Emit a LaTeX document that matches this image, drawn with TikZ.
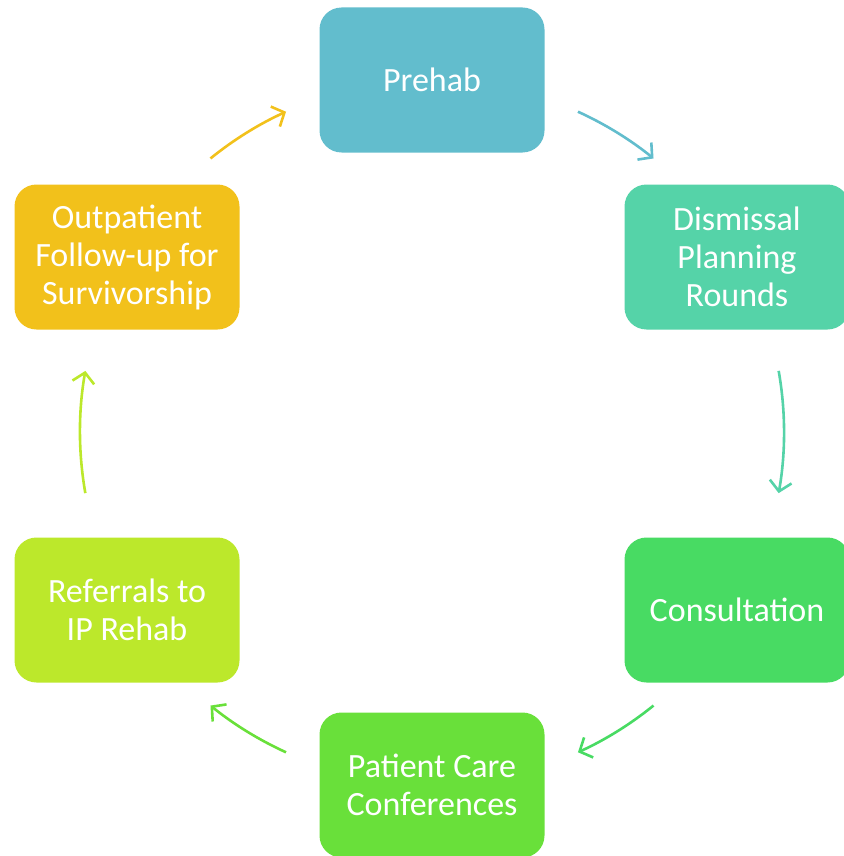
\documentclass[tikz,border=0pt]{standalone}
\usepackage{fontspec}
\setmainfont{Carlito}
\usetikzlibrary{arrows.meta}

\definecolor{prehabcol}{HTML}{62BDCD}
\definecolor{dismisscol}{HTML}{55D3A8}
\definecolor{consultcol}{HTML}{48DB63}
\definecolor{confcol}{HTML}{69E03A}
\definecolor{referralcol}{HTML}{BCE82B}
\definecolor{outpatcol}{HTML}{F2C11B}

\tikzset{
    stagebox/.style={rounded corners=22pt, minimum width=225pt, minimum height=145pt,
        text=white, align=center, inner sep=0pt,
        font=\fontsize{34}{38}\selectfont},
    cyclearrow/.style={line width=2.6pt, -{Straight Barb[length=10pt,width=22pt,line width=2.6pt]}}
}

\begin{document}
\begin{tikzpicture}[x=1pt,y=1pt]
            \useasboundingbox (0,0) rectangle (843,-856);
            \coordinate (ctr) at (432,-432);
            \node[stagebox,fill=prehabcol] (prehab) at (432,-80) {Prehab};
            \node[stagebox,fill=dismisscol] (dismiss) at (737,-257) {Dismissal\\Planning\\Rounds};
            \node[stagebox,fill=consultcol] (consult) at (737,-610) {Consultation};
            \node[stagebox,fill=confcol] (conf) at (432,-785) {Patient Care\\Conferences};
            \node[stagebox,fill=referralcol] (referral) at (127,-610) {Referrals to\\IP Rehab};
            \node[stagebox,fill=outpatcol] (outpat) at (127,-257) {Outpatient\\Follow-up for\\Survivorship};
            % arcs between the stages
            \foreach \a/\b/\col in {65.5/51/prehabcol, 10/-10/dismisscol, -51/-65.5/consultcol,
                                    -114.5/-129/confcol, 190/170/referralcol, 129/114.5/outpatcol} {
                \draw[cyclearrow,\col] (ctr) ++(\a:352) arc[start angle=\a, end angle=\b, radius=352];
            }
        \end{tikzpicture}
\end{document}
